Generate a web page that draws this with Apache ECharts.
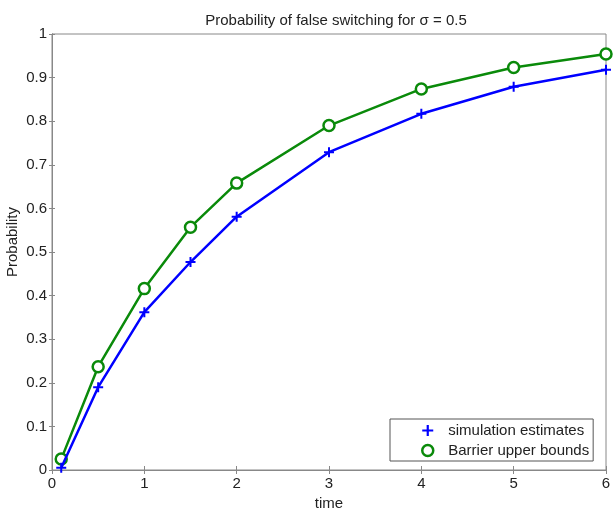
<!DOCTYPE html>
<html>
<head>
    <meta charset="utf-8">
    <title>false switching</title>
    <script src="https://cdn.jsdelivr.net/npm/echarts@6/dist/echarts.min.js"></script>
</head>
<body style="margin:0">
    <div id="main" style="width: 613px;height:508px;"></div>
    <script type="text/javascript">
        var times = [0.1, 0.5, 1, 1.5, 2, 3, 4, 5, 6];
        var simEstimates = [0.005, 0.19, 0.362, 0.477, 0.581, 0.729, 0.817, 0.879, 0.918];
        var barrierBounds = [0.025, 0.237, 0.416, 0.557, 0.658, 0.79, 0.874, 0.923, 0.954];
        var xTicks = [0, 1, 2, 3, 4, 5, 6];
        var yTicks = [0, 0.1, 0.2, 0.3, 0.4, 0.5, 0.6, 0.7, 0.8, 0.9, 1];

        var font = 'Liberation Sans, Arial, sans-serif';
        var axisColor = '#888';
        var textColor = '#222';
        var plusPath = 'path://M4,0H6V4H10V6H6V10H4V6H0V4H4Z';

        function pairs(xs, ys) {
            return xs.map(function (x, i) { return [x, ys[i]]; });
        }

        var myChart = echarts.init(document.getElementById('main'));
        var option = {
            animation: false,
            backgroundColor: '#fff',
            title: {
                text: 'Probability of false switching for \u03c3 = 0.5',
                left: 331, top: 8, textAlign: 'center',
                textStyle: {fontFamily: font, fontSize: 15, fontWeight: 'normal', color: textColor}
            },
            grid: {left: 52, right: 7, top: 34, bottom: 38, outerBoundsMode: 'none',
                show: true, borderColor: axisColor, borderWidth: 1, backgroundColor: '#fff'},
            legend: {
                left: 390, top: 419, width: 205,
                orient: 'vertical',
                backgroundColor: '#fff',
                borderColor: '#555', borderWidth: 1,
                padding: [4, 4, 3, 31],
                itemWidth: 11, itemHeight: 11, itemGap: 5,
                textStyle: {fontFamily: font, fontSize: 15, color: textColor, padding: [0, 0, 0, 10]},
                data: [
                    {name: 'simulation estimates', icon: plusPath, itemStyle: {color: '#0000ff', borderWidth: 0}},
                    {name: 'Barrier upper bounds', icon: 'circle',
                     itemStyle: {color: '#fff', borderColor: '#0a8a0a', borderWidth: 2.5}}
                ]
            },
            xAxis: [{
                type: 'value', min: 0, max: 6, interval: 1,
                name: 'time', nameLocation: 'middle', nameGap: 24,
                nameTextStyle: {fontFamily: font, fontSize: 15, color: textColor},
                axisLine: {lineStyle: {color: axisColor}},
                axisTick: {inside: true, length: 4, lineStyle: {color: axisColor}},
                axisLabel: {fontFamily: font, fontSize: 15, color: textColor, margin: 6,
                    formatter: function (v) { return xTicks.indexOf(v) >= 0 ? String(v) : ''; }},
                splitLine: {show: false}
            }, {
                type: 'value', min: 0, max: 6, interval: 1, position: 'top',
                axisLine: {show: true, lineStyle: {color: axisColor}},
                axisTick: {show: true, inside: true, length: 4, lineStyle: {color: axisColor}},
                axisLabel: {show: false}, splitLine: {show: false}
            }],
            yAxis: [{
                type: 'value', min: 0, max: 1, interval: 0.1,
                name: 'Probability', nameLocation: 'middle', nameGap: 32, nameMoveOverlap: false,
                nameTextStyle: {fontFamily: font, fontSize: 15, color: textColor, padding: [0, 0, 0, 20]},
                axisLine: {show: true, lineStyle: {color: axisColor}},
                axisTick: {show: true, inside: false, length: 3, lineStyle: {color: axisColor}},
                axisLabel: {fontFamily: font, fontSize: 15, color: textColor, margin: 5,
                    formatter: function (v) {
                        var r = +v.toFixed(1);
                        return yTicks.indexOf(r) >= 0 ? String(r) : '';
                    }},
                splitLine: {show: false}
            }, {
                type: 'value', min: 0, max: 1, interval: 0.1, position: 'right',
                axisLine: {show: true, lineStyle: {color: axisColor}},
                axisTick: {show: true, inside: false, length: 3, lineStyle: {color: axisColor}},
                axisLabel: {show: false}, splitLine: {show: false}
            }],
            series: [{
                name: 'simulation estimates',
                type: 'line',
                data: pairs(times, simEstimates),
                symbol: plusPath, symbolSize: 10,
                lineStyle: {color: '#0000ff', width: 2.5},
                itemStyle: {color: '#0000ff'},
                z: 3
            }, {
                name: 'Barrier upper bounds',
                type: 'line',
                data: pairs(times, barrierBounds),
                symbol: 'circle', symbolSize: 11,
                lineStyle: {color: '#0a8a0a', width: 2.5},
                itemStyle: {color: '#fff', borderColor: '#0a8a0a', borderWidth: 2.5},
                z: 2
            }]
        };
        myChart.setOption(option);
    </script>
</body>
</html>
